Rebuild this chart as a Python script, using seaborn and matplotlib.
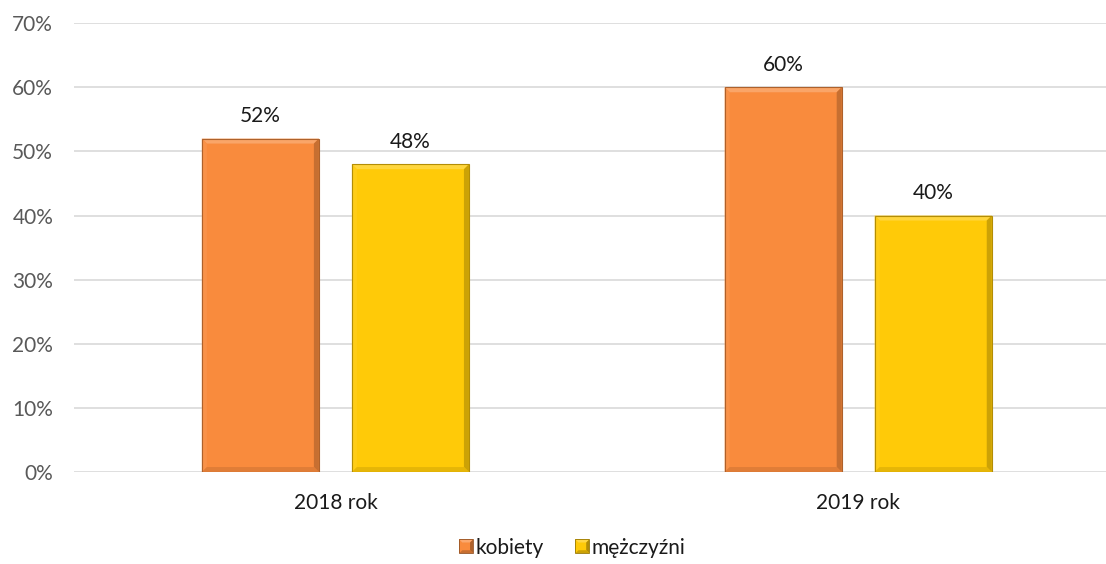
import matplotlib
matplotlib.use("Agg")
import matplotlib.pyplot as plt
from matplotlib.patches import Polygon, Rectangle
from matplotlib.colors import to_rgb
from matplotlib.legend_handler import HandlerBase
import seaborn as sns
import pandas as pd

years = ["2018 rok", "2019 rok"]
groups = ["kobiety", "mężczyźni"]
kobiety = [0.52, 0.60]
mezczyzni = [0.48, 0.40]
yticks = [0.0, 0.1, 0.2, 0.3, 0.4, 0.5, 0.6, 0.7]

colors = {"kobiety": "#F98B3D", "mężczyźni": "#FFCA08"}

df = pd.DataFrame({
    "rok": years * 2,
    "płeć": [groups[0]] * 2 + [groups[1]] * 2,
    "udział": kobiety + mezczyzni,
})

sns.set_theme(style="white")
plt.rcParams["font.family"] = ["Lato", "DejaVu Sans"]

fig = plt.figure(figsize=(11.06, 5.64), dpi=100)
ax = fig.add_axes([0.0669, 0.163, 0.9331, 0.796])

sns.barplot(data=df, x="rok", y="udział", hue="płeć", hue_order=groups,
            palette=colors, width=0.574, gap=0.22, ax=ax, legend=False,
            errorbar=None, saturation=1, linewidth=0, zorder=3)


def shade(c, f):
    r, g, b = to_rgb(c)
    if f >= 0:
        return (r + (1 - r) * f, g + (1 - g) * f, b + (1 - b) * f)
    return (r * (1 + f), g * (1 + f), b * (1 + f))


def bevel(ax, x0, y0, w, h, color, bx, by, z=4):
    # light top/left, dark right/bottom edges around the bar face
    x1, y1 = x0 + w, y0 + h
    pieces = [
        ([(x0, y1), (x1, y1), (x1 - bx, y1 - by), (x0 + bx, y1 - by)], shade(color, 0.22)),
        ([(x0, y0), (x0, y1), (x0 + bx, y1 - by), (x0 + bx, y0 + by)], shade(color, 0.06)),
        ([(x1, y0), (x1, y1), (x1 - bx, y1 - by), (x1 - bx, y0 + by)], shade(color, -0.2)),
        ([(x0, y0), (x1, y0), (x1 - bx, y0 + by), (x0 + bx, y0 + by)], shade(color, -0.1)),
    ]
    for pts, c in pieces:
        ax.add_patch(Polygon(pts, closed=True, facecolor=c, edgecolor="none", zorder=z))
    ax.add_patch(Rectangle((x0, y0), w, h, fill=False, lw=0.8,
                           edgecolor=shade(color, -0.3), zorder=z + 1))


ax.set_ylim(0, 0.7)
ax.set_xlim(-0.5, 1.474)
ax.set_yticks(yticks)
ax.set_yticklabels([f"{int(round(t * 100))}%" for t in yticks])

# bevel size of roughly 5 px, expressed in data units
bx = 1.974 * 5 / 1032.0
by = 0.7 * 5 / 449.0

for cont, g in zip(ax.containers, groups):
    for bar in cont:
        bevel(ax, bar.get_x(), bar.get_y(), bar.get_width(), bar.get_height(),
              colors[g], bx, by)
    ax.bar_label(cont, labels=[f"{v * 100:.0f}%" for v in cont.datavalues],
                 padding=9, fontsize=15, color="#1a1a1a")

ax.yaxis.grid(True, color="#d9d9d9", linewidth=1.2, zorder=0)
ax.xaxis.grid(False)
for s in ax.spines.values():
    s.set_visible(False)
ax.set_xlabel("")
ax.set_ylabel("")
ax.tick_params(axis="y", labelsize=15, labelcolor="#595959", length=0, pad=15)
ax.tick_params(axis="x", labelsize=15, labelcolor="#1a1a1a", length=0, pad=15)


class BevelHandler(HandlerBase):
    def __init__(self, color):
        super().__init__()
        self.color = color

    def create_artists(self, legend, orig_handle, xdescent, ydescent, width,
                       height, fontsize, trans):
        s = height * 0.95
        x0 = width - s
        y0 = -ydescent + (height - s) / 2
        b = s * 0.22
        c = self.color
        arts = [Rectangle((x0, y0), s, s, facecolor=c, edgecolor="none")]
        x1, y1 = x0 + s, y0 + s
        for pts, cc in [
            ([(x0, y1), (x1, y1), (x1 - b, y1 - b), (x0 + b, y1 - b)], shade(c, 0.25)),
            ([(x1, y0), (x1, y1), (x1 - b, y1 - b), (x1 - b, y0 + b)], shade(c, -0.3)),
            ([(x0, y0), (x1, y0), (x1 - b, y0 + b), (x0 + b, y0 + b)], shade(c, -0.2)),
        ]:
            arts.append(Polygon(pts, closed=True, facecolor=cc, edgecolor="none"))
        arts.append(Rectangle((x0, y0), s, s, fill=False, lw=0.6, edgecolor=shade(c, -0.4)))
        for a in arts:
            a.set_transform(trans)
        return arts


handles = [Rectangle((0, 0), 1, 1) for _ in groups]
fig.legend(handles, groups, loc="lower center", bbox_to_anchor=(0.517, -0.022),
           ncol=2, frameon=False, fontsize=15, handlelength=0.7,
           handletextpad=0.1, columnspacing=1.5, labelcolor="#1a1a1a",
           handler_map={h: BevelHandler(colors[g]) for h, g in zip(handles, groups)})

fig.savefig("out.png", dpi=100, facecolor="white")
